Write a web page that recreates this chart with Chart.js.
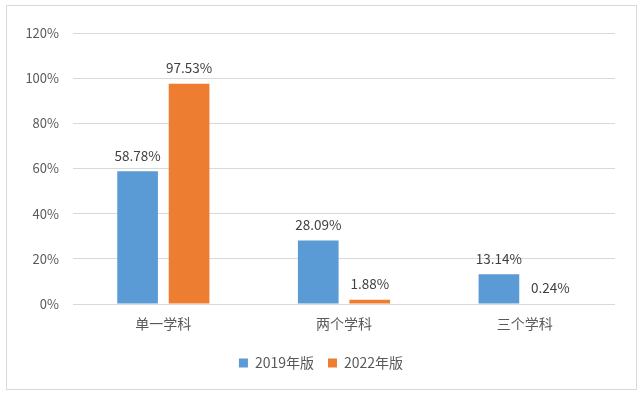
<!DOCTYPE html>
<html>
<head>
<meta charset="UTF-8">
<title>学科数量对比</title>
<script src="https://cdn.jsdelivr.net/npm/chart.js@4/dist/chart.umd.min.js"></script>
<style>
	body { margin: 0; background: #fff; }
	#box {
		position: absolute; left: 6px; top: 5px;
		width: 631px; height: 385px;
		box-sizing: border-box;
		border: 1px solid #D9D9D9;
	}
</style>
</head>
<body>
<div id="box"><canvas id="barcanvas" width="629" height="383"></canvas></div>
<script>
var categories = ['单一学科', '两个学科', '三个学科'];
var seriesNames = ['2019年版', '2022年版'];
var values2019 = [58.78, 28.09, 13.14];
var values2022 = [97.53, 1.88, 0.24];
var colors = ['#5B9BD5', '#ED7D31'];

var FONT = "'Noto Sans CJK SC', 'Noto Sans', sans-serif";

// 柱子上方的数值标签
var valueLabels = {
	id: 'valueLabels',
	afterLayout: function(chart) {
		// 图例稍微往右挪一点，跟原图对齐
		chart.legend.left += 10;
		chart.legend.right += 10;
	},
	afterDatasetsDraw: function(chart) {
		var ctx = chart.ctx;
		ctx.save();
		ctx.fillStyle = '#404040';
		ctx.font = '13.5px ' + FONT;
		ctx.textAlign = 'center';
		ctx.textBaseline = 'bottom';
		chart.data.datasets.forEach(function(ds, i) {
			chart.getDatasetMeta(i).data.forEach(function(bar, j) {
				ctx.fillText(ds.data[j].toFixed(2) + '%', bar.x, bar.y - 9);
			});
		});
		ctx.restore();
	}
};

new Chart(document.getElementById('barcanvas'), {
	type: 'bar',
	data: {
		labels: categories,
		datasets: [{
			label: seriesNames[0],
			data: values2019,
			backgroundColor: colors[0]
		}, {
			label: seriesNames[1],
			data: values2022,
			backgroundColor: colors[1]
		}]
	},
	options: {
		responsive: false,
		animation: false,
		categoryPercentage: 0.57,
		barPercentage: 0.79,
		layout: { padding: { left: 0, right: 21, top: 27, bottom: 9 } },
		plugins: {
			legend: {
				position: 'bottom',
				labels: {
					boxWidth: 9, boxHeight: 9,
					padding: 14,
					color: '#595959',
					font: { size: 14, family: FONT }
				}
			},
			tooltip: { enabled: false }
		},
		scales: {
			x: {
				grid: { display: false },
				border: { display: false },
				ticks: { color: '#595959', padding: 3, font: { size: 14, family: FONT } },
				afterFit: function(scale) { scale.height = 38; }
			},
			y: {
				min: 0, max: 120,
				grid: { color: '#D9D9D9', drawTicks: false },
				border: { display: false },
				ticks: {
					stepSize: 20, padding: 14, color: '#595959',
					font: { size: 13, family: FONT },
					callback: function(v) { return v + '%'; }
				},
				afterFit: function(scale) { scale.width = 66; }
			}
		}
	},
	plugins: [valueLabels]
});
</script>
</body>
</html>
